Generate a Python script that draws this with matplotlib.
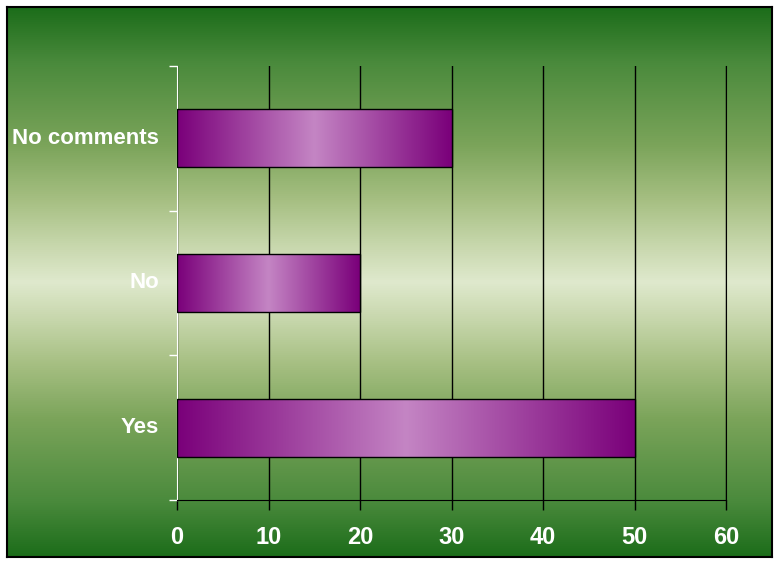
import matplotlib
matplotlib.use("Agg")
import matplotlib.pyplot as plt
import matplotlib.transforms as mtransforms
import numpy as np
from matplotlib.colors import LinearSegmentedColormap

categories = ["Yes", "No", "No comments"]
values = [50, 20, 30]
x_ticks = [0, 10, 20, 30, 40, 50, 60]

plt.rcParams["font.family"] = ["Liberation Sans", "DejaVu Sans"]

fig = plt.figure(figsize=(7.8, 5.65), dpi=100)
fig.patch.set_facecolor("white")

# green background panel, dark at top/bottom, light in the middle
half = [(0.0, "#1c6d1a"), (0.10, "#4a8a3c"), (0.25, "#7ba45a"),
        (0.35, "#a6bf82"), (0.44, "#cad9b0"), (0.5, "#dfe9cd")]
stops = half + [(1 - p, c) for p, c in reversed(half[:-1])]
bg_cmap = LinearSegmentedColormap.from_list("bg", stops)
bg = fig.add_axes([7 / 780, (565 - 557) / 565, 765 / 780, 550 / 565])
grad = np.linspace(0, 1, 512).reshape(-1, 1)
bg.imshow(grad, aspect="auto", cmap=bg_cmap, extent=(0, 1, 0, 1), origin="upper")
bg.set_xticks([])
bg.set_yticks([])
for s in bg.spines.values():
    s.set_color("black")
    s.set_linewidth(1.5)

ax = fig.add_axes([177 / 780, 65 / 565, 549 / 780, 434 / 565])
ax.patch.set_alpha(0)

bar_cmap = LinearSegmentedColormap.from_list("bar", ["#7a007a", "#c485c4", "#7a007a"])
bar_h = 0.4
y_pos = np.arange(len(categories))
hgrad = np.linspace(0, 1, 256).reshape(1, -1)
for y, v in zip(y_pos, values):
    ax.imshow(hgrad, aspect="auto", cmap=bar_cmap,
              extent=(0, v, y - bar_h / 2, y + bar_h / 2), zorder=3)
bars = ax.barh(y_pos, values, height=bar_h, facecolor="none",
               edgecolor="black", linewidth=1.0, zorder=4)

ax.set_xlim(0, 60)
ax.set_ylim(-0.5, len(categories) - 0.5)

ax.set_xticks(x_ticks)
ax.set_xticklabels([str(t) for t in x_ticks])
ax.tick_params(axis="x", colors="black", length=7, width=1, pad=12,
               labelcolor="white", labelsize=17)
for lbl in ax.get_xticklabels():
    lbl.set_fontweight("bold")

ax.set_yticks(np.arange(-0.5, len(categories), 1.0))
ax.set_yticklabels([])
ax.tick_params(axis="y", which="major", colors="white", length=6, width=1)
ax.set_yticks(y_pos, minor=True)
ax.set_yticklabels(categories, minor=True)
ax.tick_params(axis="y", which="minor", length=0, pad=13,
               labelcolor="white", labelsize=16)
shift = mtransforms.ScaledTranslation(0, 2 / 72, fig.dpi_scale_trans)
for lbl in ax.get_yticklabels(minor=True):
    lbl.set_fontweight("bold")
    lbl.set_transform(lbl.get_transform() + shift)

ax.grid(axis="x", color="black", linewidth=1, zorder=1)
ax.set_axisbelow(True)
ax.spines["top"].set_visible(False)
ax.spines["right"].set_color("black")
ax.spines["left"].set_color("white")
ax.spines["bottom"].set_color("black")

fig.savefig("out.png", dpi=100)
